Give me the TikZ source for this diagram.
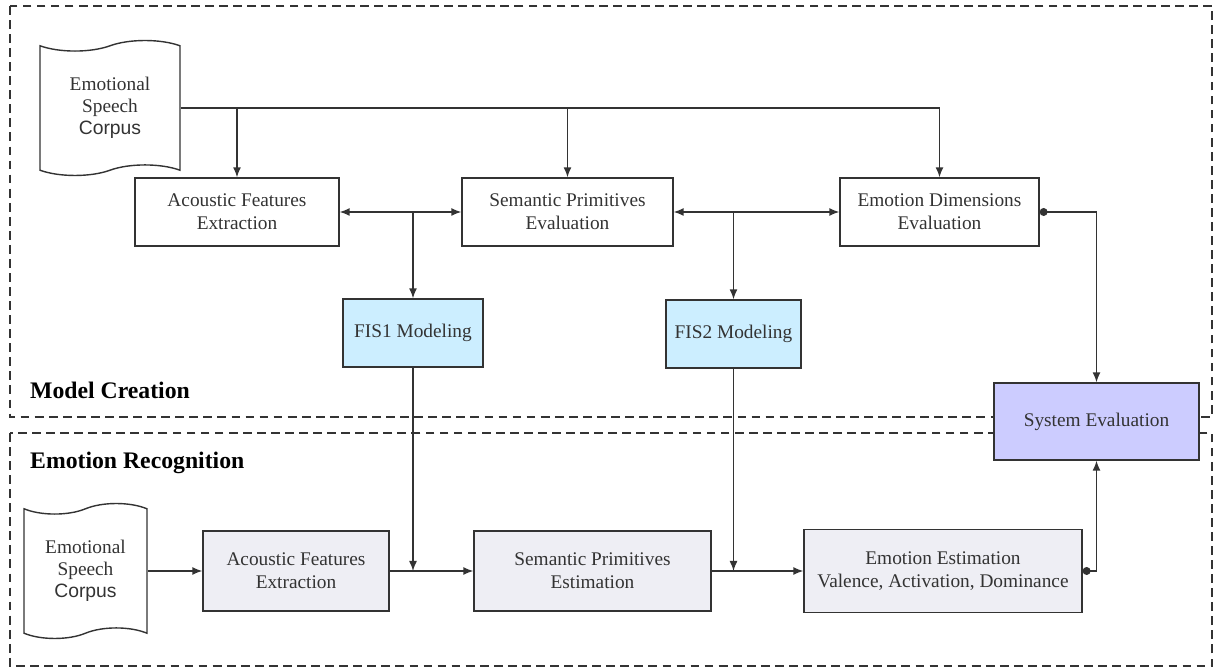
\documentclass[tikz,border=0pt]{standalone}
\usepackage{fontspec}
\setmainfont{Liberation Serif}
\setsansfont{Liberation Sans}
\usetikzlibrary{shapes.symbols,arrows.meta}
\definecolor{linegray}{HTML}{333333}
\definecolor{fisblue}{HTML}{CCEEFF}
\definecolor{sysviolet}{HTML}{CCCCFF}
\definecolor{recgray}{HTML}{EEEEF4}
\tikzset{
  stagebox/.style={rectangle, draw=linegray, line width=0.8pt, text=linegray, align=center, font=\fontsize{11pt}{13pt}\selectfont, inner sep=2pt},
  corpusdoc/.style={tape, draw=linegray, line width=0.8pt, text=linegray, align=center, tape bend height=6pt, font=\fontsize{11pt}{12.5pt}\selectfont, inner sep=1pt},
  phaseframe/.style={draw=linegray, line width=0.8pt, dash pattern=on 5pt off 3pt},
  phaselabel/.style={anchor=west, font=\fontsize{13.5pt}{15pt}\selectfont\bfseries},
  arr/.style={draw=linegray, line width=0.8pt, -{Latex[length=2mm,width=1.6mm]}},
  arrboth/.style={draw=linegray, line width=0.8pt, {Latex[length=2mm,width=1.6mm]}-{Latex[length=2mm,width=1.6mm]}},
  arrdot/.style={draw=linegray, line width=0.8pt, {Circle[length=4.5pt]}-{Latex[length=2mm,width=1.6mm]}}
}
\begin{document}
\begin{tikzpicture}[x=0.02cm, y=-0.02cm]
  \useasboundingbox (0,0) rectangle (1215,668);
  % phase frames
  \draw[phaseframe] (10,6) rectangle (1212,417);
  \draw[phaseframe] (10,433) rectangle (1212,666);
  \node[phaselabel] (lblcreate) at (24,390) {Model Creation};
  \node[phaselabel] (lblrecog) at (24,463) {Emotion Recognition};

  % model creation
  \node[corpusdoc, minimum width=2.8cm, minimum height=2.7cm] (corpusA) at (110,108) {Emotional\\Speech\\{\sffamily Corpus}};
  \node[stagebox, minimum width=4.08cm, minimum height=1.36cm] (acoA) at (237,212) {Acoustic Features\\Extraction};
  \node[stagebox, minimum width=4.22cm, minimum height=1.36cm] (semA) at (567.5,212) {Semantic Primitives\\Evaluation};
  \node[stagebox, minimum width=3.98cm, minimum height=1.36cm] (emoA) at (939.5,212) {Emotion Dimensions\\Evaluation};
  \node[stagebox, fill=fisblue, minimum width=2.8cm, minimum height=1.36cm] (fis1) at (413,333) {FIS1 Modeling};
  \node[stagebox, fill=fisblue, minimum width=2.7cm, minimum height=1.36cm] (fis2) at (733.5,334) {FIS2 Modeling};
  \node[stagebox, fill=sysviolet, minimum width=4.1cm, minimum height=1.54cm] (sys) at (1096.5,421.5) {System Evaluation};

  % emotion recognition
  \node[corpusdoc, minimum width=2.46cm, minimum height=2.7cm] (corpusB) at (85.5,571) {Emotional\\Speech\\{\sffamily Corpus}};
  \node[stagebox, fill=recgray, minimum width=3.72cm, minimum height=1.6cm] (acoB) at (296,571) {Acoustic Features\\Extraction};
  \node[stagebox, fill=recgray, minimum width=4.74cm, minimum height=1.6cm] (semB) at (592.5,571) {Semantic Primitives\\Estimation};
  \node[stagebox, fill=recgray, minimum width=5.56cm, minimum height=1.66cm] (estB) at (943,571) {Emotion Estimation\\Valence, Activation, Dominance};

  % connectors, model creation
  \draw[arr] (corpusA.east) -| (emoA.north);
  \draw[arr] (acoA.north |- corpusA.east) -- (acoA.north);
  \draw[arr] (semA.north |- corpusA.east) -- (semA.north);
  \draw[arrboth] (acoA.east) -- (semA.west);
  \draw[arrboth] (semA.east) -- (emoA.west);
  \draw[arr] (fis1.north |- acoA.east) -- (fis1.north);
  \draw[arr] (fis2.north |- semA.east) -- (fis2.north);
  \draw[arrdot] (emoA.east) -| (sys.north);

  % connectors, emotion recognition
  \draw[arr] (corpusB.east) -- (acoB.west);
  \draw[arr] (acoB.east) -- (semB.west);
  \draw[arr] (semB.east) -- (estB.west);
  \draw[arr] (fis1.south) -- (fis1.south |- acoB.east);
  \draw[arr] (fis2.south) -- (fis2.south |- semB.east);
  \draw[arrdot] (estB.east) -| (sys.south);
\end{tikzpicture}
\end{document}
